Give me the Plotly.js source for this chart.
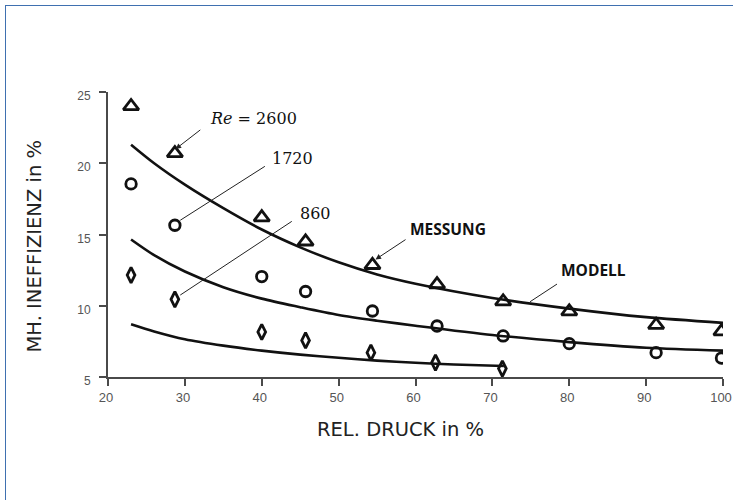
<!DOCTYPE html>
<html>
<head>
<meta charset="utf-8">
<script src="https://cdn.plot.ly/plotly-3.0.1.min.js"></script>
<style>
  html, body { margin: 0; padding: 0; background: #fff; overflow: hidden; }
  #wrap { position: relative; width: 733px; height: 500px; }
  #chart { position: absolute; left: 0; top: 0; width: 733px; height: 500px; }
  #frame { position: absolute; left: 5px; top: 5px; width: 800px; height: 600px;
           border-left: 1.5px solid #3f70b0; border-top: 1.5px solid #3f70b0;
           pointer-events: none; }
</style>
</head>
<body>
<div id="wrap">
  <div id="chart"></div>
  <div id="frame"></div>
</div>
<script>
// ---- Measurements (MESSUNG) ----
const druckMess = [23, 28.7, 40, 45.7, 54.4, 62.8, 71.4, 80, 91.3, 99.8];
const mess2600 = [24.0, 20.7, 16.2, 14.5, 12.85, 11.5, 10.3, 9.6, 8.65, 8.2];
const mess1720 = [18.55, 15.65, 12.05, 11.0, 9.63, 8.58, 7.88, 7.34, 6.71, 6.33];
const druckMess860 = [23, 28.7, 40, 45.7, 54.2, 62.6, 71.3];
const mess860 = [12.15, 10.45, 8.16, 7.57, 6.71, 6.01, 5.59];

// ---- Model curves (MODELL) ----
const druckModell = [23, 26, 30, 35, 40, 45, 50, 55, 60, 70, 80, 90, 100];
const modell2600 = [21.3, 20.0, 18.5, 16.85, 15.35, 14.1, 13.05, 12.2, 11.55, 10.55, 9.8, 9.2, 8.8];
const modell1720 = [14.65, 13.55, 12.4, 11.3, 10.5, 9.9, 9.35, 8.95, 8.6, 7.95, 7.45, 7.05, 6.85];
const druckModell860 = [23, 26, 30, 35, 40, 45, 50, 55, 60, 65, 71.5];
const modell860 = [8.7, 8.2, 7.65, 7.2, 6.85, 6.57, 6.35, 6.15, 6.0, 5.88, 5.77];

// ---- Axis ticks & labels ----
const xTicks = [20, 30, 40, 50, 60, 70, 80, 90, 100];
const yTicks = [5, 10, 15, 20, 25];
const xTitle = 'REL. DRUCK in %';
const yTitle = 'MH. INEFFIZIENZ in %';

const lineStyle = { color: '#111', width: 2.6, shape: 'spline', smoothing: 0.8 };
const mk = (sym, size) => ({ symbol: sym, size: size, color: '#111',
                             line: { color: '#111', width: 2.8 } });

const traces = [
  { x: druckModell, y: modell2600, mode: 'lines', line: lineStyle, name: 'Modell Re=2600' },
  { x: druckModell, y: modell1720, mode: 'lines', line: lineStyle, name: 'Modell Re=1720' },
  { x: druckModell860, y: modell860, mode: 'lines', line: lineStyle, name: 'Modell Re=860' },
  { x: druckMess, y: mess2600, mode: 'markers', marker: mk('triangle-up-open', 13.5), name: 'Messung Re=2600' },
  { x: druckMess, y: mess1720, mode: 'markers', marker: mk('circle-open', 10.5), name: 'Messung Re=1720' },
  { x: druckMess860, y: mess860, mode: 'markers', marker: mk('diamond-tall-open', 11), name: 'Messung Re=860' }
];

const serif = { family: 'DejaVu Serif, Liberation Serif, serif', size: 16, color: '#111' };
const boldSans = { family: 'Open Sans, Noto Sans, Arial, sans-serif', size: 15.5, color: '#111' };
const titleFont = { family: 'DejaVu Sans, Verdana, sans-serif', size: 19.5, color: '#222' };

function pointer(tipX, tipY, tailX, tailY, head) {
  return { x: tipX, y: tipY, ax: tailX, ay: tailY, xref: 'x', yref: 'y', axref: 'x', ayref: 'y',
           text: '', showarrow: true, arrowhead: head ? 2 : 0, arrowsize: 1.1, arrowwidth: 1,
           arrowcolor: '#222', standoff: 0, startstandoff: 0 };
}
function label(x, y, text, font) {
  return { x: x, y: y, xref: 'x', yref: 'y', text: text, showarrow: false, font: font,
           xanchor: 'center', yanchor: 'middle' };
}

const annotations = [
  label(38.9, 23.12, '<i>Re</i> = 2600', serif),
  label(44.0, 20.32, '1720', serif),
  label(46.97, 16.5, '860', serif),
  label(64.2, 15.41, '<b>MESSUNG</b>', boldSans),
  label(83.1, 12.53, '<b>MODELL</b>', boldSans),
  pointer(28.8, 21.0, 32.2, 22.42, true),
  pointer(29.4, 16.0, 40.6, 19.85, false),
  pointer(29.4, 10.75, 44.1, 15.99, false),
  pointer(54.8, 13.25, 58.9, 14.71, true),
  pointer(74.9, 10.28, 78.6, 11.59, false),
  { xref: 'paper', yref: 'paper', x: 0.4764, y: -0.1846, text: xTitle, showarrow: false,
    font: titleFont, xanchor: 'center', yanchor: 'middle' },
  { xref: 'paper', yref: 'paper', x: -0.12, y: 0.4586, text: yTitle, showarrow: false,
    font: titleFont, textangle: -90, xanchor: 'center', yanchor: 'middle' }
];

const axisCommon = {
  showgrid: false, zeroline: false, showline: true, linecolor: '#4a4a4a', linewidth: 2,
  ticks: 'outside', ticklen: 7, tickwidth: 2, tickcolor: '#4a4a4a', fixedrange: true
};

const layout = {
  width: 733, height: 500,
  margin: { l: 108, r: 10, t: 92, b: 123, pad: 0 },
  paper_bgcolor: '#fff', plot_bgcolor: '#fff',
  showlegend: false,
  xaxis: Object.assign({}, axisCommon, {
    range: [20, 100], tickvals: xTicks, ticktext: xTicks.map(String),
    tickfont: { family: 'Liberation Sans, Arial, sans-serif', size: 13, color: '#555' },
    ticklabelshift: -2
  }),
  yaxis: Object.assign({}, axisCommon, {
    range: [5, 25], tickvals: yTicks, ticktext: yTicks.map(String),
    tickfont: { family: 'Liberation Sans, Arial, sans-serif', size: 12, color: '#555' },
    ticklabelshift: 4, ticklabelstandoff: 6
  }),
  annotations: annotations
};

Plotly.newPlot('chart', traces, layout, { displayModeBar: false, staticPlot: true });
</script>
</body>
</html>
